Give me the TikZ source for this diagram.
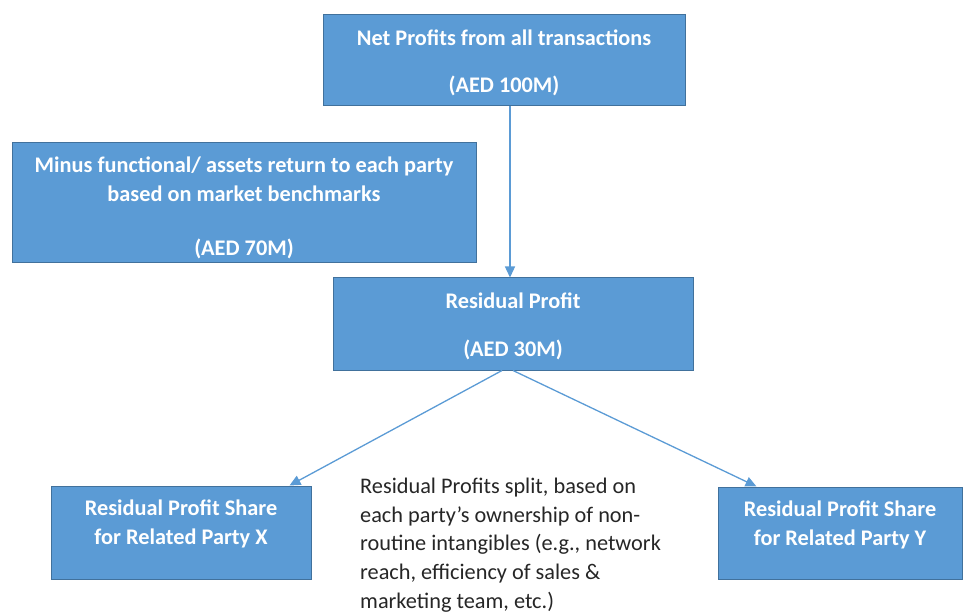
\documentclass[tikz,border=0pt]{standalone}
\usepackage{fontspec}
\setmainfont{Carlito}
\usetikzlibrary{arrows.meta,positioning}
\definecolor{boxblue}{HTML}{5B9BD5}
\definecolor{boxedge}{HTML}{41719C}
\tikzset{
	box/.style = {draw = boxedge, fill = boxblue, line width = 1pt, text = white,
		font = \fontsize{22.3}{29}\selectfont\bfseries, align = center, inner sep = 0pt},
	flow/.style = {draw = boxblue, line width = 1.3pt, -{Triangle[length = 11pt, width = 10pt]}}
}
\begin{document}
\begin{tikzpicture}[x = 1pt, y = -1pt]
\useasboundingbox (0,0) rectangle (966,612);
% boxes
\node[box, minimum width = 362, minimum height = 91] (net) at (504,60.5)
	{\mbox{}\\[-8pt] Net Profits from all transactions\\[18pt] (AED 100M)};
\node[box, minimum width = 464, minimum height = 120] (minus) at (244,203)
	{\mbox{}\\[-4pt] Minus functional/ assets return to each party\\ based on market benchmarks\\[25pt] (AED 70M)};
\node[box, minimum width = 360, minimum height = 92] (resid) at (513,324)
	{\mbox{}\\[-9pt] Residual Profit\\[19pt] (AED 30M)};
\node[box, minimum width = 260, minimum height = 93] (partyx) at (181,532.5)
	{Residual Profit Share\\ for Related Party X\\[-9pt] \mbox{}};
\node[box, minimum width = 244, minimum height = 92] (partyy) at (840,533)
	{Residual Profit Share\\ for Related Party Y\\[-9pt] \mbox{}};
% note
\node[anchor = north west, align = left, inner sep = 0pt, text = black!85,
	font = \fontsize{22.3}{28.6}\selectfont] (note) at (360,478)
	{Residual Profits split, based on\\ each party's ownership of non-\\ routine intangibles (e.g., network\\ reach, efficiency of sales \&\\ marketing team, etc.)};
% arrows
\draw[flow] ([xshift = 6pt]net.south) -- ([xshift = -3pt]resid.north);
\draw[flow] ([xshift = -11pt]resid.south) -- ([xshift = -22pt]partyx.north east);
\draw[flow] (resid.south) -- ([xshift = 39pt]partyy.north west);
\end{tikzpicture}
\end{document}
